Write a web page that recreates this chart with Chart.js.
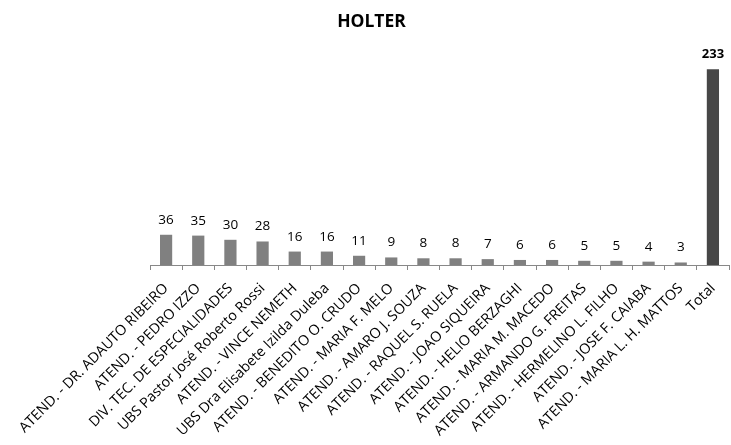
<!DOCTYPE html>
<html><head><meta charset="utf-8">
<script src="https://cdn.jsdelivr.net/npm/chart.js@4/dist/chart.umd.min.js"></script>
<style>html,body{margin:0;padding:0;background:#fff}#wrap{width:731px;height:445px}</style>
</head><body><div id="wrap"><canvas id="c" width="731" height="445"></canvas></div>
<script>
const categories = ["ATEND. - DR. ADAUTO RIBEIRO","ATEND. - PEDRO IZZO","DIV. TEC. DE ESPECIALIDADES","UBS Pastor José Roberto Rossi","ATEND. - VINCE NEMETH","UBS Dra Elisabete Izilda Duleba","ATEND. - BENEDITO O. CRUDO","ATEND. - MARIA F. MELO","ATEND. - AMARO J. SOUZA","ATEND. - RAQUEL S. RUELA","ATEND. - JOAO SIQUEIRA","ATEND. - HELIO BERZAGHI","ATEND. - MARIA M. MACEDO","ATEND. - ARMANDO G. FREITAS","ATEND. - HERMELINO L. FILHO","ATEND. - JOSE F. CAIABA","ATEND. - MARIA L. H. MATTOS","Total"];
const values = [36,35,30,28,16,16,11,9,8,8,7,6,6,5,5,4,3,233];
const barColors = values.map((v,i)=> i===values.length-1 ? '#474747' : '#808080');

const valueLabels = {
  id:'valueLabels',
  afterDatasetsDraw(chart){
    const ctx = chart.ctx;
    const meta = chart.getDatasetMeta(0);
    ctx.save();
    ctx.textAlign='center';
    ctx.textBaseline='alphabetic';
    ctx.fillStyle='#000';
    meta.data.forEach((bar,i)=>{
      const last = i===values.length-1;
      ctx.font = (last?'bold 13px':'13.5px')+' "Open Sans", sans-serif';
      ctx.fillText(String(values[i]), bar.x, bar.y-11);
    });
    ctx.restore();
  }
};

new Chart(document.getElementById('c'),{
  type:'bar',
  data:{labels:categories,datasets:[{data:values,backgroundColor:barColors,barPercentage:0.38,categoryPercentage:1}]},
  options:{
    responsive:false,animation:false,
    layout:{padding:{left:12,right:0,top:0,bottom:0}},
    plugins:{
      legend:{display:false},tooltip:{enabled:false},
      title:{display:true,text:'HOLTER',color:'#000',font:{family:'"Open Sans", sans-serif',size:17.5,weight:'bold',lineHeight:1.2},padding:{top:12,bottom:22}}
    },
    scales:{
      y:{display:false,min:0,max:250},
      x:{
        afterFit(s){ s.height = 180; s.paddingLeft = 150; s.paddingRight = 2; },
        grid:{display:true,drawOnChartArea:false,drawTicks:true,tickLength:5,color:'#888',offset:true},
        border:{display:true,color:'#888'},
        ticks:{color:'#000',minRotation:45,maxRotation:45,autoSkip:false,font:{family:'"Open Sans", sans-serif',size:14.3},padding:10}
      }
    }
  },
  plugins:[valueLabels]
});
</script></body></html>
